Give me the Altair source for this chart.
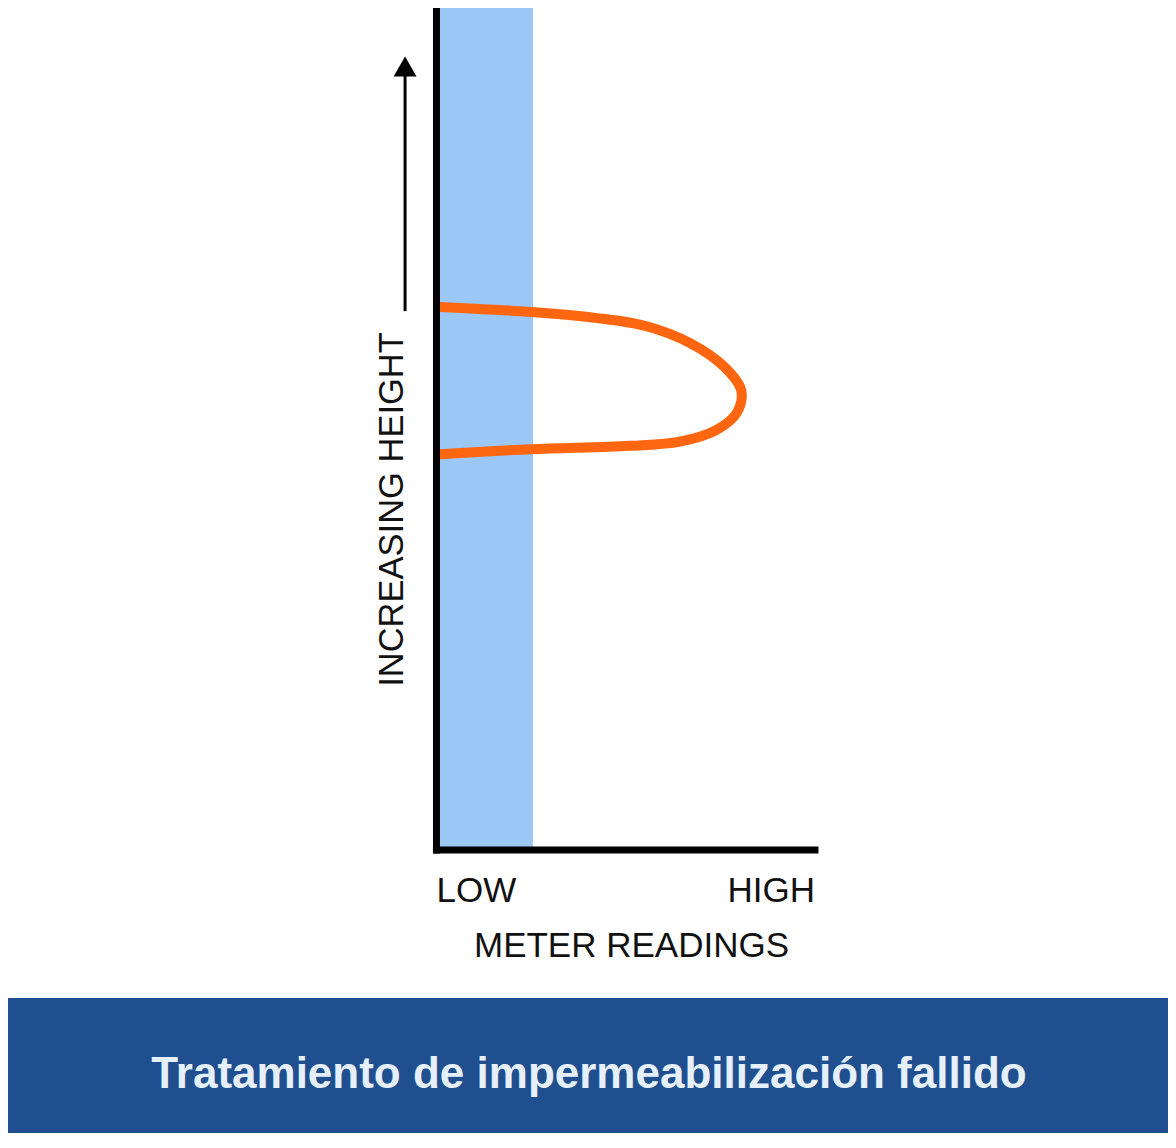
import altair as alt
import pandas as pd

# ---- data (meter reading 0 = LOW, 100 = HIGH; height 0..100) ----
curve_reading = [1, 25, 42, 55.5, 67, 76, 80.5, 79.3, 74, 64.3, 51, 25, 1]
curve_height = [64.5, 63.9, 63.2, 62.2, 60.2, 57.4, 54.6, 51.9, 49.9, 48.5, 48.0, 47.6, 47.0]
band_reading = [0, 25.5]
band_height = [0, 100]
axis_labels = ["LOW", "HIGH"]
axis_label_reading = [0, 100]
x_title = "METER READINGS"
y_title = "INCREASING HEIGHT"
arrow_reading = [-8.3]
arrow_height = [64, 92]
banner_text = "Tratamiento de impermeabilización fallido"

FONT = "Liberation Sans, Arial, sans-serif"

W, H = 1160, 1125
xs = alt.Scale(domain=[-113.2, 193.26], nice=False, zero=False)
ys = alt.Scale(domain=[-33.61, 100], nice=False, zero=False)

curve_df = pd.DataFrame({"r": curve_reading, "h": curve_height, "o": list(range(len(curve_reading)))})
band_df = pd.DataFrame({"r": [band_reading[0]], "r2": [band_reading[1]], "h": [band_height[0]], "h2": [band_height[1]]})
yaxis_df = pd.DataFrame({"r": [0], "h": [0], "h2": [100]})
xaxis_df = pd.DataFrame({"r": [0], "r2": [100], "h": [0]})
arrow_df = pd.DataFrame({"r": arrow_reading, "h": [arrow_height[0]], "h2": [arrow_height[1]]})
head_df = pd.DataFrame({"r": arrow_reading, "h": [93.05]})
low_df = pd.DataFrame({"label": [axis_labels[0]], "r": [axis_label_reading[0]], "h": [0]})
high_df = pd.DataFrame({"label": [axis_labels[1]], "r": [axis_label_reading[1]], "h": [0]})

X = lambda f: alt.X(f, type="quantitative", scale=xs, axis=None)
Y = lambda f: alt.Y(f, type="quantitative", scale=ys, axis=None)

banner = alt.Chart(pd.DataFrame({"a": [0]})).mark_rect(color="#1f4f8e").encode(
    x=alt.value(0), x2=alt.value(W), y=alt.value(990), y2=alt.value(H)
)
banner_lbl = alt.Chart(pd.DataFrame({"t": [banner_text]})).mark_text(
    font=FONT, fontSize=44, fontWeight="bold", color="#e6f0fb", align="center", baseline="alphabetic"
).encode(x=alt.value(581), y=alt.value(1080), text="t:N")

band = alt.Chart(band_df).mark_rect(color="#9bc8f7").encode(
    x=X("r"), x2="r2", y=Y("h"), y2="h2"
)
curve = alt.Chart(curve_df).mark_line(
    color="#ff660f", strokeWidth=10, interpolate="catmull-rom", strokeCap="round", strokeJoin="round"
).encode(x=X("r"), y=Y("h"), order="o:Q")
yaxis = alt.Chart(yaxis_df).mark_rule(color="black", strokeWidth=7, strokeCap="square").encode(
    x=X("r"), y=Y("h"), y2="h2"
)
xaxis = alt.Chart(xaxis_df).mark_rule(color="black", strokeWidth=7, strokeCap="square").encode(
    x=X("r"), x2="r2", y=Y("h")
)
arrow = alt.Chart(arrow_df).mark_rule(color="black", strokeWidth=3).encode(
    x=X("r"), y=Y("h"), y2="h2"
)
head = alt.Chart(head_df).mark_point(
    shape="triangle-up", filled=True, color="black", size=529, opacity=1
).encode(x=X("r"), y=Y("h"))
low = alt.Chart(low_df).mark_text(
    font=FONT, fontSize=35, color="#111111", baseline="alphabetic", align="left", dy=52
).encode(x=X("r"), y=Y("h"), text="label:N")
high = alt.Chart(high_df).mark_text(
    font=FONT, fontSize=35, color="#111111", baseline="alphabetic", align="right", dy=52
).encode(x=X("r"), y=Y("h"), text="label:N")
xt = alt.Chart(pd.DataFrame({"t": [x_title]})).mark_text(
    font=FONT, fontSize=35, color="#111111", align="center", baseline="alphabetic"
).encode(x=alt.value(623.5), y=alt.value(949), text="t:N")
yt = alt.Chart(pd.DataFrame({"t": [y_title]})).mark_text(
    font=FONT, fontSize=34.5, color="#111111", align="center", baseline="middle", angle=270
).encode(x=alt.value(384.5), y=alt.value(501.5), text="t:N")

chart = alt.layer(banner, banner_lbl, band, curve, yaxis, xaxis, arrow, head, low, high, xt, yt).properties(
    width=W, height=H, autosize=alt.AutoSizeParams(type="none"), padding=0, background="white"
).configure_view(stroke=None)

chart.save("out.html", embed_options={"renderer": "svg", "actions": False})
